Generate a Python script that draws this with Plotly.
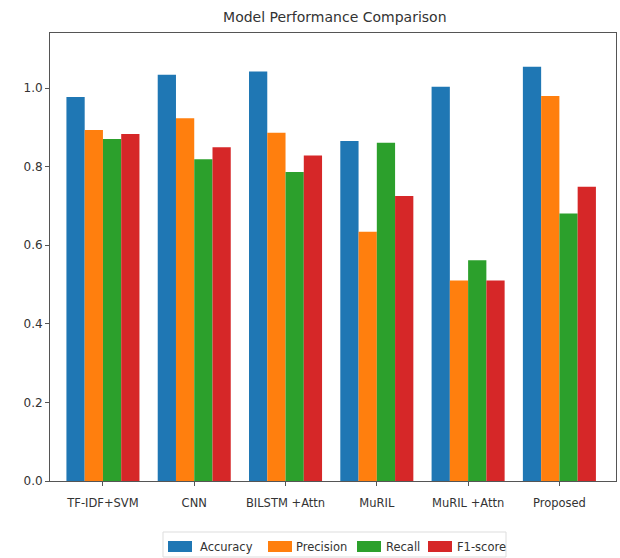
import plotly.graph_objects as go

models = ["TF-IDF+SVM", "CNN", "BILSTM +Attn", "MuRIL", "MuRIL +Attn", "Proposed"]
accuracy = [0.977, 1.034, 1.042, 0.865, 1.003, 1.054]
precision = [0.893, 0.923, 0.886, 0.634, 0.510, 0.980]
recall = [0.870, 0.819, 0.786, 0.861, 0.562, 0.681]
f1_score = [0.883, 0.849, 0.828, 0.725, 0.510, 0.749]

series = [
    ("Accuracy", accuracy, "#1f77b4"),
    ("Precision", precision, "#ff7f0e"),
    ("Recall", recall, "#2ca02c"),
    ("F1-score", f1_score, "#d62728"),
]

W, H = 620, 558
L, R, T, B = 50, 4, 33, 77
PW, PH = W - L - R, H - T - B


def px_x(px):
    return (px - L) / PW


def px_y(py):
    return (H - B - py) / PH


fig = go.Figure()
for name, vals, color in series:
    fig.add_trace(go.Bar(x=models, y=vals, name=name, showlegend=False,
                         marker=dict(color=color, line=dict(width=0))))

font = "DejaVu Sans, sans-serif"
axis_common = dict(
    showline=True, linecolor="#555555", linewidth=1, mirror=True,
    ticks="outside", ticklen=4, tickcolor="#555555", showgrid=False, zeroline=False,
)

# legend drawn below the axes: frame, wide colour patches and labels
shapes = [dict(type="rect", xref="paper", yref="paper",
               x0=px_x(163), x1=px_x(506), y0=px_y(557), y1=px_y(532),
               line=dict(color="#dddddd", width=1), fillcolor="white", layer="below")]
annotations = []
patch_x = [168, 268, 357, 428]
label_x = [198, 294, 384, 455]
for (name, _, color), x0, tx in zip(series, patch_x, label_x):
    shapes.append(dict(type="rect", xref="paper", yref="paper",
                       x0=px_x(x0), x1=px_x(x0 + 24), y0=px_y(552), y1=px_y(541),
                       line=dict(width=0), fillcolor=color))
    annotations.append(dict(text=name, xref="paper", yref="paper",
                            x=px_x(tx), y=px_y(546.5), xanchor="left", yanchor="middle",
                            showarrow=False, font=dict(family=font, size=11.5, color="#333333")))

fig.update_layout(
    width=W, height=H,
    margin=dict(l=L, r=R, t=T, b=B, autoexpand=False),
    paper_bgcolor="white", plot_bgcolor="white",
    barmode="group", bargap=0.2, bargroupgap=0,
    showlegend=False,
    title=dict(text="Model Performance Comparison", x=0.54, xanchor="center", y=0.97, yanchor="middle",
               font=dict(family=font, size=14, color="#333333")),
    xaxis=dict(range=[-0.58, 5.62], ticklabelstandoff=7,
               tickfont=dict(family=font, size=11.5, color="#333333"), **axis_common),
    yaxis=dict(range=[0, 1.14], tickvals=[0, 0.2, 0.4, 0.6, 0.8, 1.0], tickformat=".1f",
               tickfont=dict(family=font, size=12, color="#333333"), **axis_common),
    shapes=shapes,
    annotations=annotations,
)

fig.write_html("out.html")
